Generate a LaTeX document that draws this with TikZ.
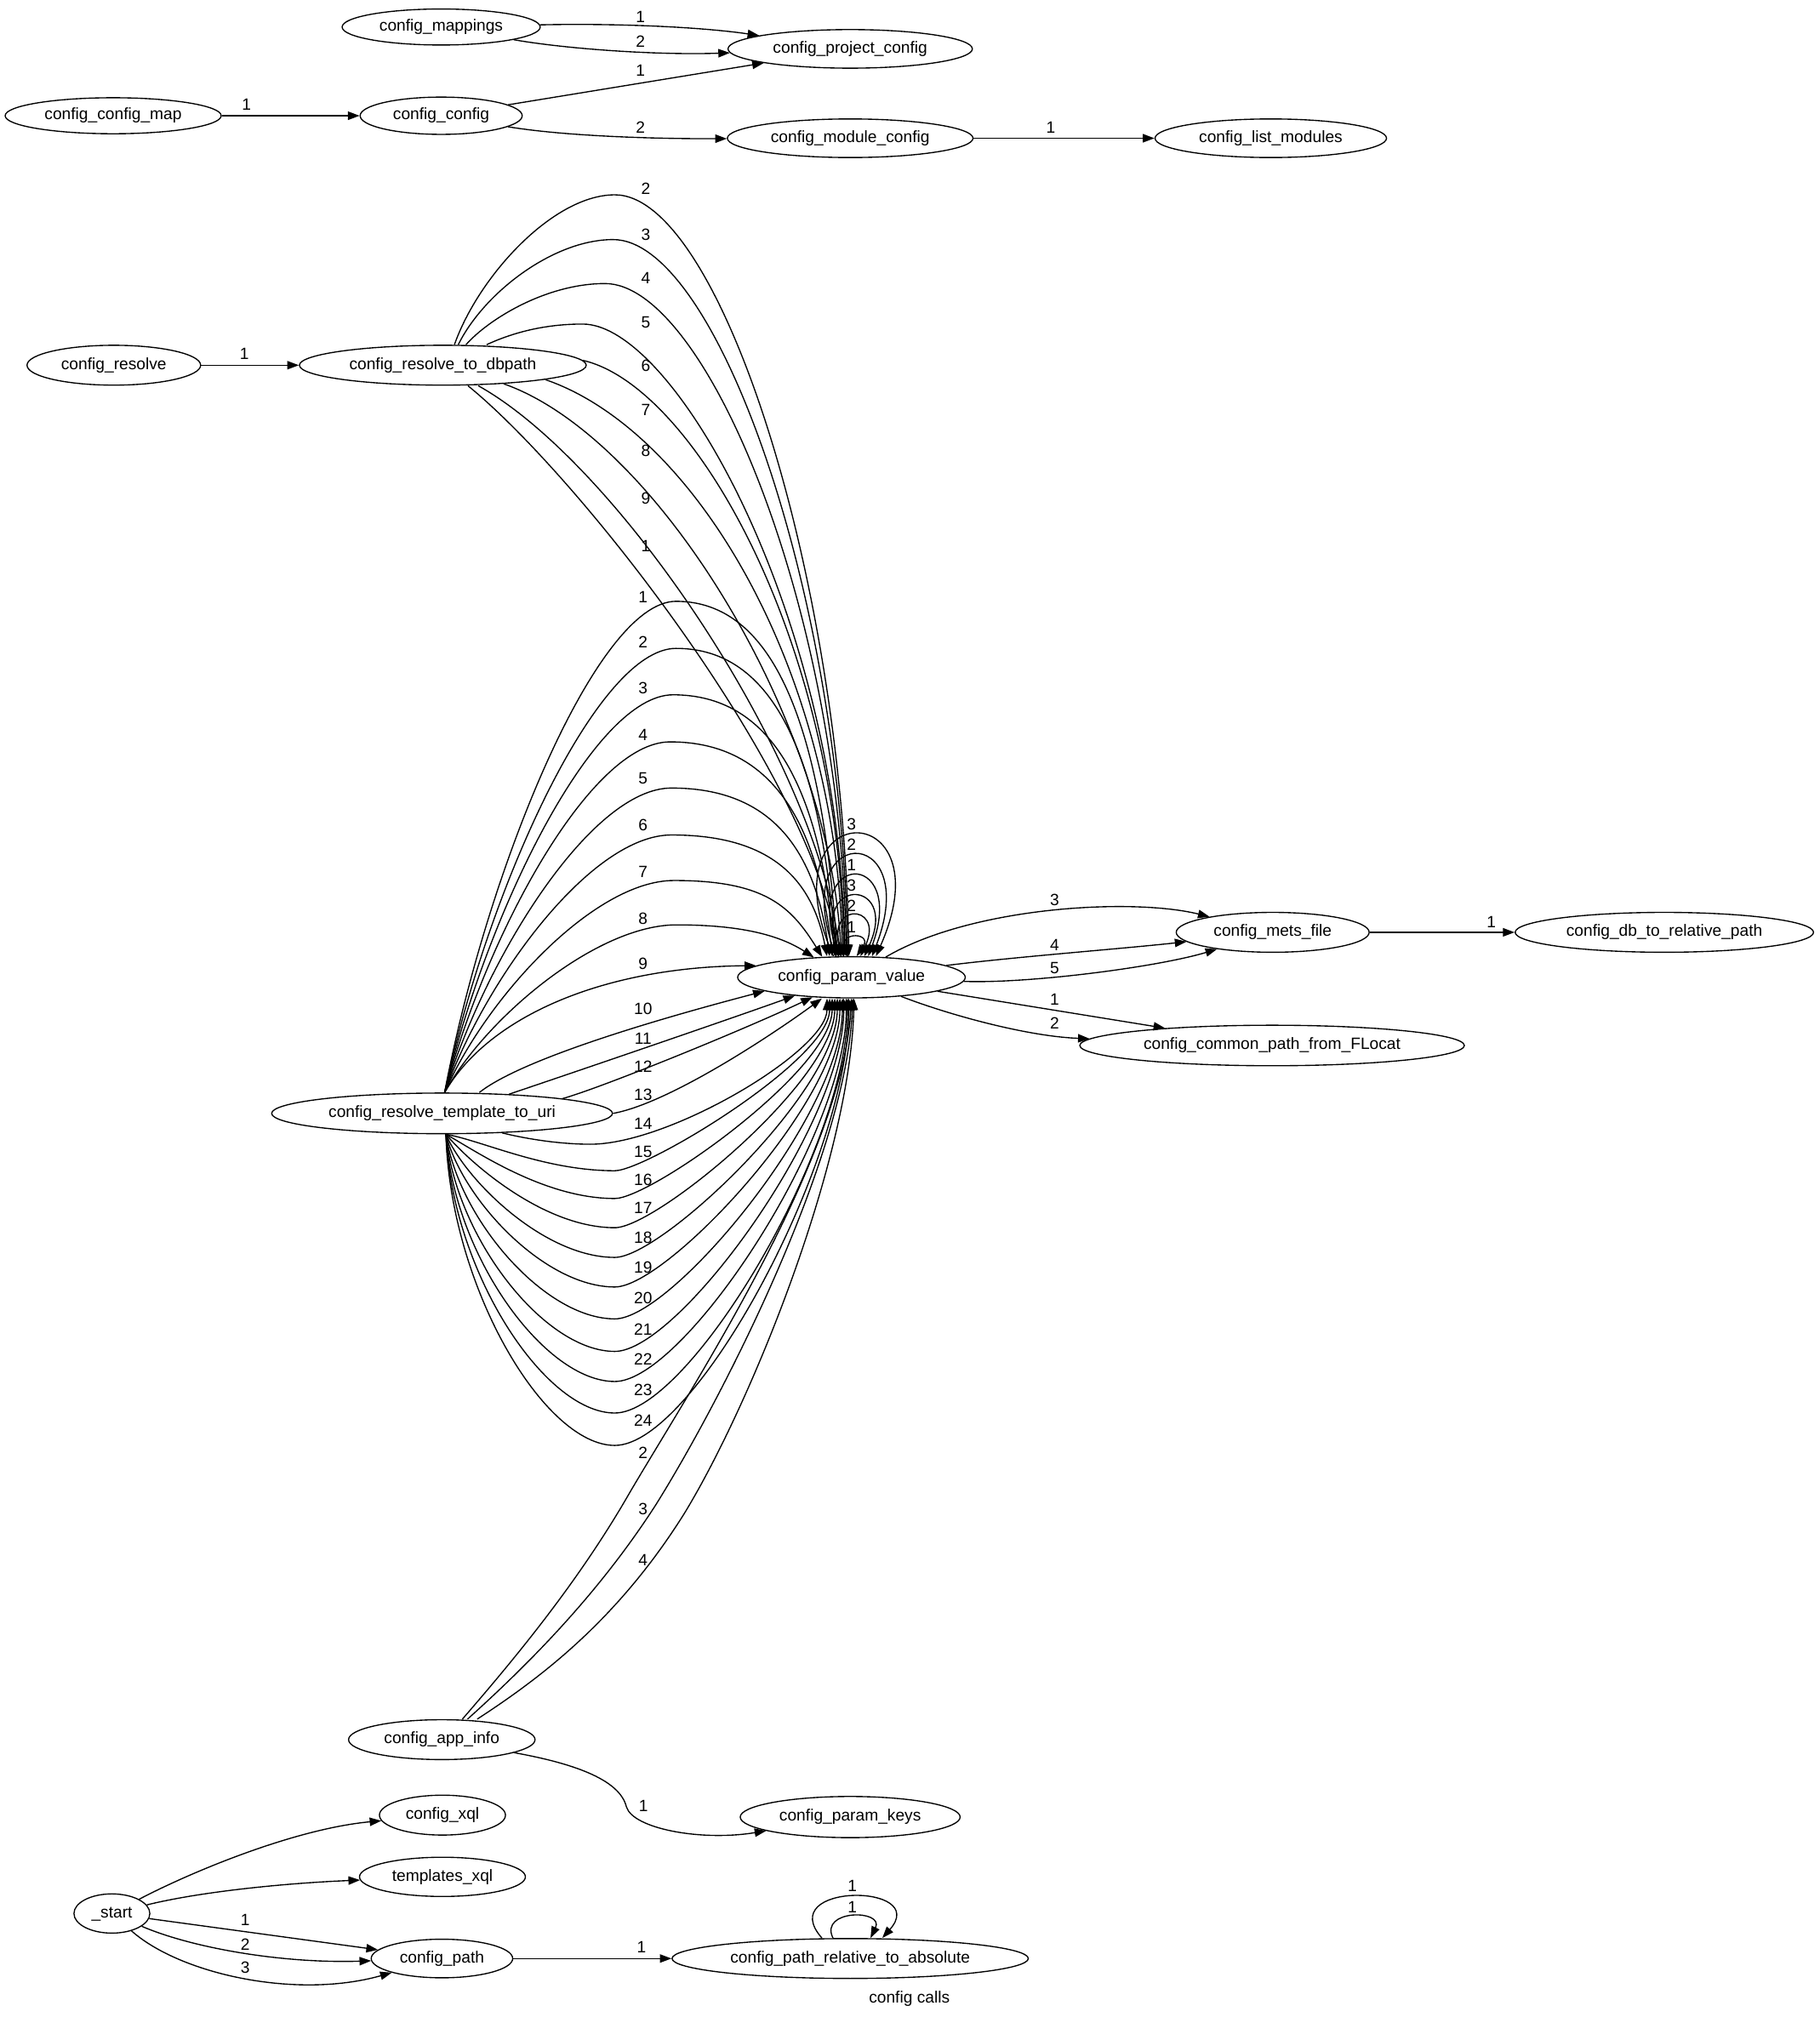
\documentclass[tikz,border=0pt]{standalone}
\usepackage{fontspec}
\setmainfont{Liberation Sans}
\usetikzlibrary{arrows.meta,shapes.geometric}
\newcommand\gfont{\fontsize{12.7pt}{15pt}\selectfont}
\begin{document}
\begin{tikzpicture}[x=1pt,y=-1pt,
  nd/.style={draw, ellipse, line width=0.9pt, inner sep=0pt, text height=9pt, text depth=2.5pt, font=\gfont},
  lbl/.style={inner sep=0pt, font=\gfont},
  arr/.style={line width=0.9pt, -{Triangle[length=9pt,width=6.5pt]}}]
\useasboundingbox (0,0) rectangle (1415,1568.5);
% nodes
\node[nd, minimum width=154pt, minimum height=28pt] (mappings) at (343,21) {config\_mappings};
\node[nd, minimum width=190pt, minimum height=30pt] (projcfg) at (661,38) {config\_project\_config};
\node[nd, minimum width=168pt, minimum height=28pt] (cmap) at (88,90) {config\_config\_map};
\node[nd, minimum width=126pt, minimum height=29pt] (cc) at (343,90) {config\_config};
\node[nd, minimum width=191pt, minimum height=30pt] (modcfg) at (661,107.5) {config\_module\_config};
\node[nd, minimum width=180pt, minimum height=30pt] (listmod) at (988,107.5) {config\_list\_modules};
\node[nd, minimum width=135pt, minimum height=31pt] (resolve) at (88.5,284) {config\_resolve};
\node[nd, minimum width=223pt, minimum height=31pt] (db) at (344.3,284) {config\_resolve\_to\_dbpath};
\node[nd, minimum width=177pt, minimum height=32pt] (pv) at (662,760) {config\_param\_value};
\node[nd, minimum width=150pt, minimum height=31pt] (mets) at (989.5,725) {config\_mets\_file};
\node[nd, minimum width=232pt, minimum height=31pt] (dbrel) at (1294,725) {config\_db\_to\_relative\_path};
\node[nd, minimum width=299pt, minimum height=31.5pt] (common) at (989,813) {config\_common\_path\_from\_FLocat};
\node[nd, minimum width=265pt, minimum height=31.6pt] (tpl) at (343.7,865.8) {config\_resolve\_template\_to\_uri};
\node[nd, minimum width=145pt, minimum height=31pt] (ai) at (343.5,1352.8) {config\_app\_info};
\node[nd, minimum width=98pt, minimum height=31pt] (xql) at (344,1411.5) {config\_xql};
\node[nd, minimum width=171pt, minimum height=32pt] (pk) at (661,1413) {config\_param\_keys};
\node[nd, minimum width=129pt, minimum height=30.5pt] (txql) at (344,1459.5) {templates\_xql};
\node[nd, minimum width=59pt, minimum height=30.5pt] (start) at (87,1488) {\_start};
\node[nd, minimum width=110pt, minimum height=30pt] (cpath) at (343.6,1523) {config\_path};
\node[nd, minimum width=277pt, minimum height=31pt] (prabs) at (661,1523) {config\_path\_relative\_to\_absolute};
\node[lbl] (title) at (707,1554) {config calls};

% top edges
\draw[arr] (mappings) .. controls (480,18) and (545,21) .. (projcfg);
\draw[arr] (mappings) .. controls (440,38) and (510,43) .. (projcfg);
\draw[arr] (cc) -- (projcfg);
\draw[arr] (cmap) -- (cc);
\draw[arr] (cc) .. controls (440,106) and (510,108) .. (modcfg);
\draw[arr] (modcfg) -- (listmod);
\draw[arr] (resolve) -- (db);
\node[lbl] (l01) at (498,13.2) {1};
\node[lbl] (l02) at (498,32) {2};
\node[lbl] (l03) at (498,55) {1};
\node[lbl] (l04) at (191.6,81.6) {1};
\node[lbl] (l05) at (498,99.2) {2};
\node[lbl] (l06) at (817,99.2) {1};
\node[lbl] (l07) at (190,275) {1};

% dbpath -> param_value
\draw[arr] ([xshift=9pt]db.north) .. controls (372,215) and (430,151.5) .. (478,151.5) .. controls (560,151.5) and (655,450) .. ([xshift=-2pt]pv.north);
\draw[arr] ([xshift=12pt]db.north) .. controls (376,228) and (430,186.3) .. (476.7,186.3) .. controls (556.7,186.3) and (654,460) .. ([xshift=-3pt]pv.north);
\draw[arr] ([xshift=18pt]db.north) .. controls (380,248) and (425,220.5) .. (470.4,220.5) .. controls (548,220.5) and (653,470) .. ([xshift=-4pt]pv.north);
\draw[arr] ([xshift=34pt]db.north) .. controls (400,258) and (425,252) .. (453,252) .. controls (525,252) and (652,480) .. ([xshift=-5pt]pv.north);
\draw[arr] (db.2) .. controls (540,300) and (652,500) .. ([xshift=-6pt]pv.north);
\draw[arr] (db.-8) .. controls (540,335) and (650,520) .. ([xshift=-7pt]pv.north);
\draw[arr] (db.-17) .. controls (510,340) and (645,560) .. ([xshift=-8pt]pv.north);
\draw[arr] ([xshift=27.5pt]db.south) .. controls (480,360) and (635,590) .. ([xshift=-9pt]pv.north);
\draw[arr] ([xshift=19.5pt]db.south) .. controls (450,370) and (630,600) .. ([xshift=-10pt]pv.north);
\node[lbl] (ld2) at (502,146.6) {2};
\node[lbl] (ld3) at (502,182.4) {3};
\node[lbl] (ld4) at (502,216) {4};
\node[lbl] (ld5) at (502,250.9) {5};
\node[lbl] (ld6) at (502,284.4) {6};
\node[lbl] (ld7) at (502,318.6) {7};
\node[lbl] (ld8) at (502,350.6) {8};
\node[lbl] (ld9) at (502,387.6) {9};
\node[lbl] (ld1) at (502,424.4) {1};

% template -> param_value (upper arches)
\draw[arr] ([xshift=2pt]tpl.north) .. controls (378,678) and (463.6,467.6) .. (525.6,467.6) .. controls (600.6,467.6) and (639,561.6) .. ([xshift=-11pt]pv.north);
\draw[arr] ([xshift=2pt]tpl.north) .. controls (378,694.4) and (463.6,504.2) .. (525.6,504.2) .. controls (600.6,504.2) and (638,585.7) .. ([xshift=-12pt]pv.north);
\draw[arr] ([xshift=2pt]tpl.north) .. controls (378,710.6) and (461.3,540.3) .. (523.3,540.3) .. controls (598.3,540.3) and (637,609.6) .. ([xshift=-13pt]pv.north);
\draw[arr] ([xshift=2pt]tpl.north) .. controls (378,727.1) and (459,576.9) .. (521,576.9) .. controls (596,576.9) and (635,633.7) .. ([xshift=-15pt]pv.north);
\draw[arr] ([xshift=2pt]tpl.north) .. controls (378,743.3) and (460,612.8) .. (522,612.8) .. controls (597,612.8) and (633,657.4) .. ([xshift=-17pt]pv.north);
\draw[arr] ([xshift=2pt]tpl.north) .. controls (378,759.7) and (460,649.3) .. (522,649.3) .. controls (597,649.3) and (631,681.5) .. ([xshift=-19pt]pv.north);
\draw[arr] ([xshift=2pt]tpl.north) .. controls (378,775.6) and (462,684.7) .. (524,684.7) .. controls (595,684.7) and (615,705) .. (pv.145);
\draw[arr] ([xshift=2pt]tpl.north) .. controls (378,791.1) and (464,719.2) .. (526,719.2) .. controls (580,719.2) and (608,728.6) .. (pv.152);
\draw[arr] ([xshift=2pt]tpl.north) .. controls (380,790) and (470,752) .. (pv.173);
\draw[arr] ([xshift=29pt]tpl.north) .. controls (410,820) and (540,785) .. (pv.189);
\draw[arr] (tpl.16) .. controls (440,836) and (560,795) .. (pv.198);
\draw[arr] (tpl.7) .. controls (470,845) and (580,800) .. (pv.207);
\draw[arr] (tpl.east) .. controls (520,858) and (600,805) .. ([xshift=-23pt]pv.south);
% template -> param_value (lower loops)
\draw[arr] (tpl.-18) .. controls (415,887) and (440,889.8) .. (459,889.8) .. controls (521,889.8) and (643,817) .. ([xshift=-19pt]pv.south);
\draw[arr] ([xshift=3pt]tpl.south) .. controls (375,887) and (423,910.4) .. (478,910.4) .. controls (502.2,910.4) and (645,824.4) .. ([xshift=-17pt]pv.south);
\draw[arr] ([xshift=3pt]tpl.south) .. controls (370,895) and (423,932) .. (478,932) .. controls (506,932) and (647,832.2) .. ([xshift=-15pt]pv.south);
\draw[arr] ([xshift=3pt]tpl.south) .. controls (366,905) and (423,954.7) .. (478,954.7) .. controls (510.2,954.7) and (649,840.3) .. ([xshift=-13pt]pv.south);
\draw[arr] ([xshift=3pt]tpl.south) .. controls (362,918) and (423,977.8) .. (478,977.8) .. controls (514.3,977.8) and (651,848.6) .. ([xshift=-11pt]pv.south);
\draw[arr] ([xshift=3pt]tpl.south) .. controls (359,932) and (423,1000.8) .. (478,1000.8) .. controls (518.5,1000.8) and (653,856.9) .. ([xshift=-9pt]pv.south);
\draw[arr] ([xshift=3pt]tpl.south) .. controls (356,947) and (423,1025.6) .. (478,1025.6) .. controls (522.9,1025.6) and (655,865.9) .. ([xshift=-7pt]pv.south);
\draw[arr] ([xshift=3pt]tpl.south) .. controls (354,962) and (423,1050.9) .. (478,1050.9) .. controls (527.5,1050.9) and (656,875) .. ([xshift=-6pt]pv.south);
\draw[arr] ([xshift=3pt]tpl.south) .. controls (352,975) and (423,1074.3) .. (478,1074.3) .. controls (531.7,1074.3) and (658,883.4) .. ([xshift=-4pt]pv.south);
\draw[arr] ([xshift=3pt]tpl.south) .. controls (351,988) and (423,1098.8) .. (478,1098.8) .. controls (536.1,1098.8) and (659,892.2) .. ([xshift=-3pt]pv.south);
\draw[arr] ([xshift=3pt]tpl.south) .. controls (350,1000.6) and (423,1124) .. (478,1124) .. controls (540.6,1124) and (660,901.3) .. ([xshift=-2pt]pv.south);
\node[lbl] (lt1) at (500,464) {1};
\node[lbl] (lt2) at (500,499.4) {2};
\node[lbl] (lt3) at (500,535.4) {3};
\node[lbl] (lt4) at (500,571.5) {4};
\node[lbl] (lt5) at (500,605) {5};
\node[lbl] (lt6) at (500,641.7) {6};
\node[lbl] (lt7) at (500,677.8) {7};
\node[lbl] (lt8) at (500,714.2) {8};
\node[lbl] (lt9) at (500,749.6) {9};
\node[lbl] (lt10) at (500,784.4) {10};
\node[lbl] (lt11) at (500,807.4) {11};
\node[lbl] (lt12) at (500,829.5) {12};
\node[lbl] (lt13) at (500,851.4) {13};
\node[lbl] (lt14) at (500,873.5) {14};
\node[lbl] (lt15) at (500,895.7) {15};
\node[lbl] (lt16) at (500,917.2) {16};
\node[lbl] (lt17) at (500,939.4) {17};
\node[lbl] (lt18) at (500,962.4) {18};
\node[lbl] (lt19) at (500,985.8) {19};
\node[lbl] (lt20) at (500,1009.4) {20};
\node[lbl] (lt21) at (500,1034) {21};
\node[lbl] (lt22) at (500,1057) {22};
\node[lbl] (lt23) at (500,1080.6) {23};
\node[lbl] (lt24) at (500,1104.8) {24};

% app_info -> param_value
\draw[arr] ([xshift=16pt]ai.north) .. controls (400,1290) and (450,1230) .. (490,1160) .. controls (540,1075) and (655,900) .. ([xshift=0pt]pv.south);
\draw[arr] ([xshift=20pt]ai.north) .. controls (410,1295) and (465,1240) .. (510,1170) .. controls (560,1090) and (658,900) .. ([xshift=1pt]pv.south);
\draw[arr] ([xshift=27.5pt]ai.north) .. controls (420,1305) and (480,1260) .. (532,1177) .. controls (585,1090) and (661,900) .. ([xshift=2pt]pv.south);
\node[lbl] (la2) at (500,1130) {2};
\node[lbl] (la3) at (500,1173.3) {3};
\node[lbl] (la4) at (500,1213.2) {4};
\draw[arr] (ai) .. controls (450,1372) and (482,1385) .. (487,1405) .. controls (492,1422) and (545,1432) .. (pk);
\node[lbl] (la1) at (500.3,1404.2) {1};

% self loops on param_value
\draw[arr] ([xshift=-14pt]pv.north) .. controls (592,617) and (737,617) .. ([xshift=19pt]pv.north);
\draw[arr] ([xshift=-12pt]pv.north) .. controls (609.3,638.3) and (718.7,638.3) .. ([xshift=16pt]pv.north);
\draw[arr] ([xshift=-10pt]pv.north) .. controls (620.8,659.7) and (706.2,659.7) .. ([xshift=13pt]pv.north);
\draw[arr] ([xshift=-8pt]pv.north) .. controls (625.4,681) and (700.6,681) .. ([xshift=10pt]pv.north);
\draw[arr] ([xshift=-6pt]pv.north) .. controls (636,701) and (689,701) .. ([xshift=7pt]pv.north);
\draw[arr] ([xshift=-3pt]pv.north) .. controls (645.4,723.7) and (679.6,723.7) .. ([xshift=4pt]pv.north);
\node[lbl] (ls1) at (662,641.2) {3};
\node[lbl] (ls2) at (662,656.7) {2};
\node[lbl] (ls3) at (662,673) {1};
\node[lbl] (ls4) at (662,688.4) {3};
\node[lbl] (ls5) at (662,704.6) {2};
\node[lbl] (ls6) at (662,721) {1};

% param_value -> mets / common
\draw[arr] (pv) .. controls (755,705) and (880,698) .. (mets);
\draw[arr] (pv) .. controls (790,744) and (870,738) .. (mets);
\draw[arr] (pv) .. controls (800,765) and (900,752) .. (mets);
\draw[arr] (pv) -- (common);
\draw[arr] (pv) .. controls (740,790) and (800,806) .. (common);
\draw[arr] (mets) -- (dbrel);
\node[lbl] (lm3) at (820,700) {3};
\node[lbl] (lm4) at (820,735) {4};
\node[lbl] (lm5) at (820,753) {5};
\node[lbl] (lc1) at (820,777) {1};
\node[lbl] (lc2) at (820,796) {2};
\node[lbl] (lr1) at (1159.4,717) {1};

% _start edges
\draw[arr] (start) .. controls (150,1455) and (230,1422) .. (xql);
\draw[arr] (start) .. controls (160,1470) and (230,1464) .. (txql);
\draw[arr] (start) -- (cpath);
\draw[arr] (start) .. controls (150,1515) and (220,1527) .. (cpath);
\draw[arr] (start) .. controls (140,1535) and (230,1555) .. (cpath);
\node[lbl] (lp1) at (190.7,1492.8) {1};
\node[lbl] (lp2) at (190.7,1512.3) {2};
\node[lbl] (lp3) at (190.7,1530.3) {3};
\draw[arr] (cpath) -- (prabs);
\node[lbl] (lq1) at (498.7,1514.4) {1};
% self loops on path_relative_to_absolute
\draw[arr] ([xshift=-22pt]prabs.north) .. controls (601,1464) and (724,1464) .. ([xshift=25pt]prabs.north);
\draw[arr] ([xshift=-13.4pt]prabs.north) .. controls (636.6,1484.6) and (687.8,1484.6) .. ([xshift=15.8pt]prabs.north);
\node[lbl] (lo1) at (662.6,1466.4) {1};
\node[lbl] (lo2) at (662.6,1483) {1};
\end{tikzpicture}
\end{document}
